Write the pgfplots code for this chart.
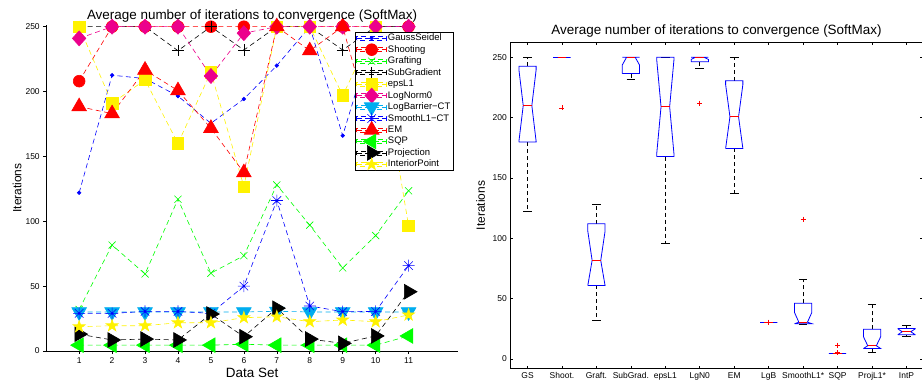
\documentclass[border=0pt]{standalone}
\usepackage{fontspec}
\setmainfont{Liberation Sans}
\usepackage{pgfplots}
\pgfplotsset{compat=1.18}
\usetikzlibrary{plotmarks}

\pgfdeclareplotmark{pentagram}{%
 \pgfpathmoveto{\pgfpointpolar{90}{\pgfplotmarksize}}%
 \pgfpathlineto{\pgfpointpolar{126}{0.382\pgfplotmarksize}}%
 \pgfpathlineto{\pgfpointpolar{162}{\pgfplotmarksize}}%
 \pgfpathlineto{\pgfpointpolar{198}{0.382\pgfplotmarksize}}%
 \pgfpathlineto{\pgfpointpolar{234}{\pgfplotmarksize}}%
 \pgfpathlineto{\pgfpointpolar{270}{0.382\pgfplotmarksize}}%
 \pgfpathlineto{\pgfpointpolar{306}{\pgfplotmarksize}}%
 \pgfpathlineto{\pgfpointpolar{342}{0.382\pgfplotmarksize}}%
 \pgfpathlineto{\pgfpointpolar{18}{\pgfplotmarksize}}%
 \pgfpathlineto{\pgfpointpolar{54}{0.382\pgfplotmarksize}}%
 \pgfpathclose
 \pgfusepathqfillstroke}
\pgfdeclareplotmark{ast8}{%
 \pgfpathmoveto{\pgfqpoint{0pt}{\pgfplotmarksize}}\pgfpathlineto{\pgfqpoint{0pt}{-\pgfplotmarksize}}%
 \pgfpathmoveto{\pgfqpoint{\pgfplotmarksize}{0pt}}\pgfpathlineto{\pgfqpoint{-\pgfplotmarksize}{0pt}}%
 \pgfpathmoveto{\pgfpointpolar{45}{\pgfplotmarksize}}\pgfpathlineto{\pgfpointpolar{225}{\pgfplotmarksize}}%
 \pgfpathmoveto{\pgfpointpolar{135}{\pgfplotmarksize}}\pgfpathlineto{\pgfpointpolar{315}{\pgfplotmarksize}}%
 \pgfusepathqstroke}

\newcommand\tickfont{\fontsize{8.5}{10}\selectfont}
\newcommand\labfont{\fontsize{13.5}{16}\selectfont}

\pgfplotsset{
 ln/.style={line width=0.6bp, dash pattern=on 5bp off 3.5bp},
 bx/.style={blue, line width=0.8bp},
 wh/.style={black, line width=0.6bp, dash pattern=on 4bp off 3bp},
 cap/.style={black, line width=0.6bp},
 md/.style={red, line width=0.8bp},
}

% notched box: x, lower whisker, q1, notch low, median, notch high, q3, upper whisker
\newcommand\nbox[8]{%
 \pgfmathsetmacro\xa{#1-0.25}%
 \pgfmathsetmacro\xb{#1-0.125}%
 \pgfmathsetmacro\xc{#1+0.125}%
 \pgfmathsetmacro\xd{#1+0.25}%
 \edef\tmp{%
  \noexpand\addplot[wh] coordinates {(#1,#7) (#1,#8)};
  \noexpand\addplot[wh] coordinates {(#1,#3) (#1,#2)};
  \noexpand\addplot[cap] coordinates {(\xb,#8) (\xc,#8)};
  \noexpand\addplot[cap] coordinates {(\xb,#2) (\xc,#2)};
  \noexpand\addplot[bx] coordinates {(\xa,#3) (\xa,#4) (\xb,#5) (\xa,#6) (\xa,#7) (\xd,#7) (\xd,#6) (\xc,#5) (\xd,#4) (\xd,#3) (\xa,#3)};
  \noexpand\addplot[md] coordinates {(\xb,#5) (\xc,#5)};
 }\tmp}

\begin{document}
\begin{tikzpicture}
%================ LEFT =================
\begin{axis}[
 at={(46.2bp,36bp)}, anchor=south west, scale only axis,
 width=411.8bp, height=326bp,
 xmin=0, xmax=12.5, ymin=0, ymax=251.3, clip=false,
 axis lines*=left, axis line style={line width=0.6bp},
 tick style={black, line width=0.6bp}, tick align=outside, major tick length=3bp,
 xtick={1,...,11}, ytick={0,50,...,250},
 tick label style={font=\tickfont}, /pgf/number format/assume math mode=true,
 title={Average number of iterations to convergence (SoftMax)},
 title style={at={(axis description cs:0.5,1)}, anchor=base, yshift=-0.3bp, font=\labfont},
 xlabel={Data Set}, xlabel style={at={(axis description cs:0.5,-0.0666)}, anchor=center, font=\labfont},
 ylabel={Iterations}, ylabel style={at={(axis description cs:-0.0704,0.5)}, anchor=center, font=\fontsize{12}{14}\selectfont},
 legend style={at={(axis description cs:0.9879,0.9794)}, anchor=north east,
   font=\fontsize{9.5}{10}\selectfont, draw=black, inner xsep=1.5bp, inner ysep=1bp,
   nodes={inner sep=1bp, text height=6.8bp, text depth=1.8bp}, row sep=0.87bp},
 legend cell align=left,
 legend image code/.code={%
   \draw[mark repeat=2,mark phase=2,overlay] plot coordinates {(0bp,0bp) (15bp,0bp) (30bp,0bp)};
   \path (0bp,-2bp) rectangle (30bp,2bp);},
]
\addplot[ln, blue, mark=*, mark size=1.8bp, mark options={solid, fill=blue}] coordinates {
 (1,122) (2,212.6) (3,210) (4,196.5) (5,175.5) (6,194.3) (7,220) (8,250) (9,166) (10,250) (11,250)};
\addplot[ln, red, mark=*, mark size=5.9bp, mark options={solid, fill=red}] coordinates {
 (1,208) (2,250) (3,250) (4,250) (5,250) (6,250) (7,250) (8,250) (9,250) (10,250) (11,250)};
\addplot[ln, green, mark=x, mark size=5bp, mark options={solid}] coordinates {
 (1,32) (2,81.7) (3,59.4) (4,117) (5,60) (6,73.5) (7,128) (8,97) (9,64) (10,89) (11,123.5)};
\addplot[ln, black, mark=+, mark size=5.8bp, mark options={solid}] coordinates {
 (1,250) (2,250) (3,250) (4,231.5) (5,250) (6,232) (7,250) (8,250) (9,232) (10,250) (11,250)};
\addplot[ln, yellow, mark=square*, mark size=5.8bp, mark options={solid, fill=yellow}] coordinates {
 (1,250) (2,191) (3,209) (4,160) (5,215) (6,126.7) (7,250) (8,250) (9,197) (10,250) (11,96.4)};
\addplot[ln, magenta, mark=diamond*, mark size=7.5bp, mark options={solid, fill=magenta, xscale=1.2}] coordinates {
 (1,241) (2,250) (3,250) (4,250) (5,212) (6,245) (7,250) (8,250) (9,250) (10,250) (11,250)};
\addplot[ln, cyan, mark=triangle*, mark size=8.5bp, mark options={solid, fill=cyan, rotate=180}] coordinates {
 (1,30.1) (2,30.1) (3,30.1) (4,30.1) (5,30.1) (6,30.1) (7,30.6) (8,30.1) (9,30.1) (10,30.1) (11,30.1)};
\addplot[ln, blue, mark=ast8, mark size=6bp, mark options={solid}] coordinates {
 (1,29) (2,29) (3,30.5) (4,30.5) (5,29) (6,50) (7,116) (8,34.7) (9,30.3) (10,30.5) (11,65.8)};
\addplot[ln, red, mark=triangle*, mark size=8.5bp, mark options={solid, fill=red}] coordinates {
 (1,188.4) (2,183) (3,216.6) (4,200.7) (5,171.7) (6,137.5) (7,250) (8,231.5) (9,250) (10,160) (11,228)};
\addplot[ln, green, mark=triangle*, mark size=8.5bp, mark options={solid, fill=green, rotate=90}] coordinates {
 (1,4.5) (2,4.5) (3,4.5) (4,4.5) (5,4.5) (6,5.2) (7,4.5) (8,4.5) (9,4.5) (10,4.5) (11,11.6)};
\addplot[ln, black, mark=triangle*, mark size=8.5bp, mark options={solid, fill=black, rotate=-90}] coordinates {
 (1,13) (2,8.5) (3,9.2) (4,8.5) (5,28.5) (6,11) (7,33) (8,9.2) (9,5.9) (10,11.6) (11,45.7)};
\addplot[ln, yellow, mark=pentagram, mark size=6.3bp, mark options={solid, fill=yellow}] coordinates {
 (1,18.7) (2,19.5) (3,19.5) (4,21.8) (5,21.8) (6,25.7) (7,26.4) (8,22.6) (9,23.9) (10,22.6) (11,27.8)};
\legend{GaussSeidel, Shooting, Grafting, SubGradient, epsL1, LogNorm0, LogBarrier−CT, SmoothL1−CT, EM, SQP, Projection, InteriorPoint}
\end{axis}
%================ RIGHT =================
\begin{axis}[
 at={(510.3bp,18.3bp)}, anchor=south west, scale only axis,
 width=412.4bp, height=326.4bp,
 xmin=0.5, xmax=12.47, ymin=-8, ymax=262.4, clip=false,
 axis line style={line width=0.6bp},
 tick style={black, line width=0.6bp}, tick align=inside, major tick length=3bp,
 xtick={1,...,12},
 xticklabels={GS, Shoot., Graft., SubGrad., epsL1, LgN0, EM, LgB, SmoothL1*, SQP, ProjL1*, IntP},
 ytick={0,50,...,250},
 tick label style={font=\tickfont}, /pgf/number format/assume math mode=true,
 title={Average number of iterations to convergence (SoftMax)},
 title style={at={(axis description cs:0.5,1)}, anchor=base, yshift=2.3bp, font=\labfont},
 ylabel={Iterations}, ylabel style={at={(axis description cs:-0.0723,0.5)}, anchor=center, font=\fontsize{12}{14}\selectfont},
]
\nbox{1}{122}{179.8}{180.3}{210}{239.7}{242.5}{250}
\nbox{2}{250}{250}{250}{250}{250}{250}{250}
\nbox{3}{32}{61}{61}{81.7}{105.8}{112}{128}
\nbox{4}{231.5}{236.5}{243.6}{250}{250}{250}{250}
\nbox{5}{96}{167.75}{170.1}{209}{247.9}{250}{250}
\nbox{6}{241}{246.25}{248.2}{250}{250}{250}{250}
\nbox{7}{137.5}{174.5}{174.5}{200.7}{227.3}{230.6}{250}
\nbox{8}{30.1}{30.1}{30.1}{30.1}{30.1}{30.1}{30.1}
\nbox{9}{29}{29.3}{29.3}{30.5}{38.5}{46.2}{65.8}
\nbox{10}{4.5}{4.5}{4.5}{4.5}{4.5}{4.5}{4.5}
\nbox{11}{5.9}{8.7}{8.7}{11}{18.5}{24.6}{45.7}
\nbox{12}{18.7}{20.1}{20.2}{22.6}{25.0}{25.25}{27.8}
\addplot[only marks, red, mark=+, mark size=2.5bp, line width=0.6bp] coordinates {
 (2,208) (6,212) (8,30.6) (9,116) (10,5.2) (10,11.6)};
\end{axis}
\pgfresetboundingbox
\path[use as bounding box] (0,0) rectangle (922bp,387bp);
\end{tikzpicture}
\end{document}
